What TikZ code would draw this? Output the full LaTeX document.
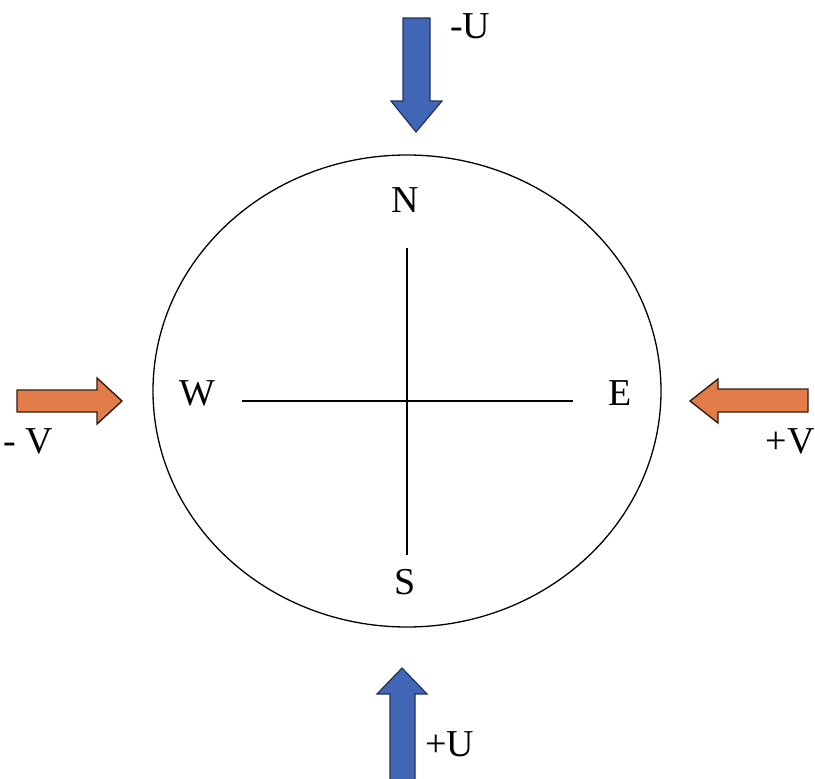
\documentclass[tikz,border=0pt]{standalone}
\usepackage{fontspec}
\setmainfont{Liberation Serif}
\begin{document}
\begin{tikzpicture}[x=1pt,y=-1pt,
  lbl/.style={inner sep=0pt,font=\fontsize{38}{42}\selectfont},
  bluearrow/.style={fill={rgb,255:red,66;green,102;blue,182},draw={rgb,255:red,35;green,50;blue,90},line width=1.2pt,line join=miter},
  orangearrow/.style={fill={rgb,255:red,226;green,124;blue,72},draw={rgb,255:red,50;green,30;blue,20},line width=1.4pt,line join=miter},
  thin/.style={line width=1.3pt,draw=black}]
\useasboundingbox (0,0) rectangle (815,779);
% circle
\draw[thin] (407,391) ellipse [x radius=254, y radius=236];
% cross
\coordinate (nt) at (407,248);
\coordinate (sb) at (407,555);
\coordinate (wl) at (242,401);
\coordinate (er) at (573,401);
\draw[thin] (nt) -- (sb);
\draw[thin] (wl) -- (er);
% compass labels
\node[lbl] (N) at (405,200) {N};
\node[lbl] (S) at (405,582) {S};
\node[lbl] (W) at (197,393) {W};
\node[lbl] (E) at (620,393) {E};
% top arrow (down)
\draw[bluearrow] (403,18) -- (430,18) -- (430,101) -- (442,101) -- (416,132) -- (391,101) -- (403,101) -- cycle;
\node[lbl,anchor=west] (mU) at (450,26) {-U};
% bottom arrow (up)
\draw[bluearrow] (390,781) -- (390,694) -- (377,694) -- (402,668) -- (427,694) -- (415,694) -- (415,781);
\node[lbl,anchor=west] (pU) at (425,744) {+U};
% left arrow (right)
\draw[orangearrow] (17,390) -- (97,390) -- (97,378) -- (122,401) -- (97,424) -- (97,412) -- (17,412) -- cycle;
\node[lbl,anchor=west] (mV) at (3,441) {- V};
% right arrow (left)
\draw[orangearrow] (808,389) -- (718,389) -- (718,379) -- (690,401) -- (718,423) -- (718,412) -- (808,412) -- cycle;
\node[lbl,anchor=east] (pV) at (815,441) {+V};
\end{tikzpicture}
\end{document}
